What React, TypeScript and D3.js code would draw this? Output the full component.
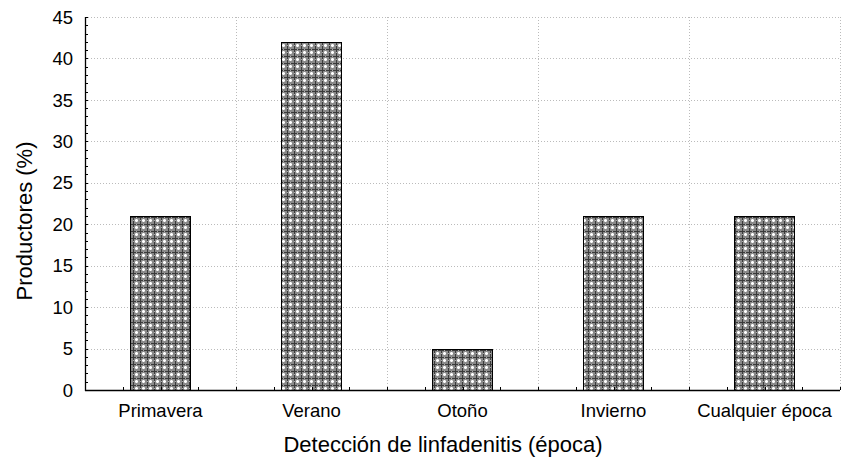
import React from "react";
import * as d3 from "d3";

const categories = ["Primavera", "Verano", "Otoño", "Invierno", "Cualquier época"];
const values = [21, 42, 5, 21, 21];
const yTicks = [0, 5, 10, 15, 20, 25, 30, 35, 40, 45];
const yTitle = "Productores (%)";
const xTitle = "Detección de linfadenitis (época)";

export default function App() {
  const W = 841, H = 461;
  const left = 85, right = 840, top = 17, bottom = 390;
  const x = d3.scaleBand<string>().domain(categories).range([left, right]).paddingInner(0).paddingOuter(0);
  const y = d3.scaleLinear().domain([0, 45]).range([bottom, top]);
  const bw = x.bandwidth();
  const barW = bw * 0.4;
  const minorY = d3.range(0, 46, 1);
  const minorX: number[] = [];
  categories.forEach((c) => {
    for (let k = 0; k < 4; k++) minorX.push((x(c) as number) + (bw * k) / 4);
  });
  minorX.push(right);
  const font = "Liberation Sans, Arial, sans-serif";
  return (
    <svg width={W} height={H} style={{ position: "absolute", left: 0, top: 0, background: "#fff" }} fontFamily={font}>
      <defs>
        <pattern id="hatch" width="7" height="7" patternUnits="userSpaceOnUse">
          <rect width="7" height="7" fill="#8a8a8a" />
          <rect x="0" y="0" width="7" height="1" fill="#3a3a3a" />
          <rect x="0" y="0" width="1" height="7" fill="#3a3a3a" />
          <rect x="2" y="3" width="3" height="1" fill="#fff" />
          <rect x="3" y="2" width="1" height="3" fill="#fff" />
          <rect x="2" y="2" width="1" height="1" fill="#ccc" />
          <rect x="4" y="2" width="1" height="1" fill="#ccc" />
          <rect x="2" y="4" width="1" height="1" fill="#ccc" />
          <rect x="4" y="4" width="1" height="1" fill="#ccc" />
          <rect x="3" y="0" width="1" height="1" fill="#aaa" />
          <rect x="0" y="3" width="1" height="1" fill="#aaa" />
        </pattern>
      </defs>
      {/* horizontal grid */}
      {yTicks.filter((t) => t > 0).map((t) => (
        <line key={"gy" + t} x1={left} x2={right} y1={Math.round(y(t)) + 0.5} y2={Math.round(y(t)) + 0.5} stroke="#bbb" strokeDasharray="1,2" />
      ))}
      {/* vertical grid at category boundaries */}
      {categories.map((c, i) => {
        const xv = (x(c) as number) + bw;
        return <line key={"gx" + i} x1={Math.round(xv) + 0.5} x2={Math.round(xv) + 0.5} y1={top} y2={bottom} stroke="#bbb" strokeDasharray="1,2" />;
      })}
      {/* bars */}
      {categories.map((c, i) => {
        const cx = (x(c) as number) + bw / 2;
        return (
          <rect key={"b" + i} x={Math.round(cx - barW / 2) + 0.5} y={Math.round(y(values[i])) + 0.5}
            width={Math.round(barW)} height={Math.round(y(0) - y(values[i]))}
            fill="url(#hatch)" stroke="#000" strokeWidth={1} />
        );
      })}
      {/* axes */}
      <line x1={left + 0.5} x2={left + 0.5} y1={top} y2={bottom + 1} stroke="#000" strokeWidth={1.3} />
      <line x1={left} x2={right} y1={bottom + 0.5} y2={bottom + 0.5} stroke="#000" strokeWidth={1.3} />
      {minorY.map((t) => (
        <line key={"ty" + t} x1={left} x2={left + 3} y1={Math.round(y(t)) + 0.5} y2={Math.round(y(t)) + 0.5} stroke="#000" />
      ))}
      {minorX.map((xv, i) => (
        <line key={"tx" + i} x1={Math.round(xv) + 0.5} x2={Math.round(xv) + 0.5} y1={bottom} y2={bottom - 3} stroke="#000" />
      ))}
      {yTicks.map((t) => (
        <text key={"ly" + t} x={73} y={y(t)} dy="0.36em" textAnchor="end" fontSize={18.5} fill="#000">{t}</text>
      ))}
      {categories.map((c, i) => (
        <text key={"lx" + i} x={(x(c) as number) + bw / 2} y={417} textAnchor="middle" fontSize={18.5} fill="#000">{c}</text>
      ))}
      <text x={443} y={452} textAnchor="middle" fontSize={22} fill="#000">{xTitle}</text>
      <text transform={`translate(32,221) rotate(-90)`} textAnchor="middle" fontSize={22} fill="#000">{yTitle}</text>
    </svg>
  );
}
